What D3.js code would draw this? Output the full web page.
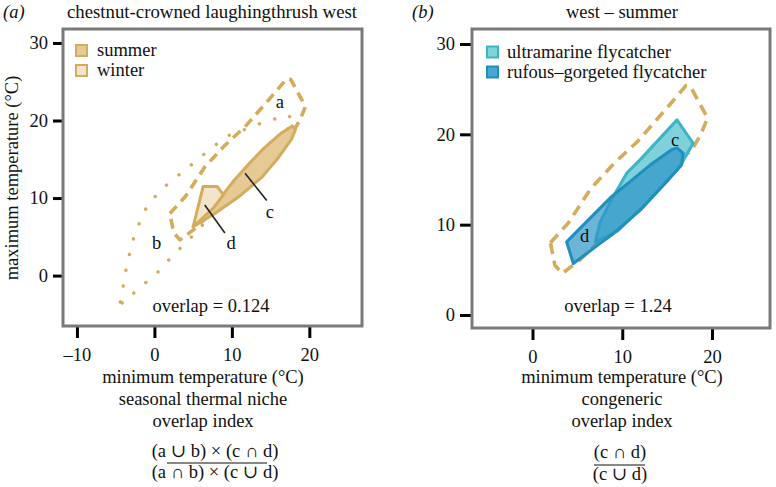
<!DOCTYPE html>
<html>
<head>
<meta charset="utf-8">
<script src="https://cdn.jsdelivr.net/npm/d3@7"></script>
<style>
  html, body { margin: 0; padding: 0; background: #fff; }
  svg { display: block; }
  text { font-family: "Liberation Serif", "Times New Roman", "DejaVu Serif", serif; fill: #111; }
</style>
</head>
<body>
<svg id="chart" width="776" height="487"></svg>
<script>
// ---------------- data ----------------
const ticksAx = [-10, 0, 10, 20];
const ticksAy = [0, 10, 20, 30];
const ticksBx = [0, 10, 20];
const ticksBy = [0, 10, 20, 30];

// panel (a): seasonal niches of chestnut-crowned laughingthrush west
const summerOutline = [[2.0,8.0],[4.0,10.2],[6.5,14.0],[9.1,16.8],[11.7,19.2],[14.7,22.6],[17.1,25.4],[17.6,25.3],[19.5,21.8],[18.8,20.1],[17.9,18.5],[5.3,6.1],[3.3,4.6],[2.5,5.5]];
const winterOutline = [[-4.4,-3.4],[-4.0,-1.2],[-3.6,1.1],[-3.1,3.3],[-2.5,5.5],[-0.8,9.3],[0.5,10.6],[2.2,12.3],[4.0,13.6],[5.7,15.1],[7.4,16.4],[9.1,17.9],[11.1,18.6],[13.0,19.4],[15.2,20.1],[17.3,20.7],[18.0,19.8],[5.3,5.5],[2.2,2.4],[0.5,0.5],[-1.0,-0.8],[-2.5,-2.1],[-4.0,-3.6]];
const summerCore = [[5.0,6.3],[8.9,10.5],[10.3,12.3],[12.0,14.2],[14.0,16.3],[16.4,18.4],[17.8,19.3],[18.2,18.8],[17.7,17.6],[16.0,15.2],[13.9,12.7],[10.8,10.1],[7.8,8.0]];
const winterCore = [[5.0,6.3],[6.3,11.5],[8.1,11.5],[8.9,10.4],[7.6,8.7]];
const labelsA = [{t:"a",x:16.2,y:22.4},{t:"b",x:0.3,y:4.2},{t:"c",x:14.9,y:8.2},{t:"d",x:9.9,y:4.2}];
const pointersA = [[[11.7,13.2],[14.5,9.7]],[[6.5,9.1],[9.1,5.5]]];

// panel (b): congeneric flycatchers, west summer
const ultramarine = [[7.0,8.1],[7.5,10.2],[8.6,12.4],[9.4,13.8],[10.5,15.7],[12.0,17.2],[16.1,21.6],[17.9,19.0],[16.4,16.4],[12.5,12.2],[9.5,9.3]];
const rufous = [[3.8,8.1],[8.8,13.1],[10.9,14.8],[13.1,16.6],[15.5,18.3],[16.1,18.5],[16.8,17.9],[16.6,16.6],[15.0,14.8],[12.0,11.6],[9.0,9.0],[7.5,7.9],[4.55,5.7]];
const labelsB = [{t:"c",x:15.9,y:19.4},{t:"d",x:5.8,y:8.7}];

// ---------------- styles ----------------
const gold = "#D5AB5C";
const summerFill = "#E6CA95";
const winterFill = "#F3E5CB";
const ultraStroke = "#3CB6C6", ultraFill = "#80D1DA";
const rufStroke = "#1F8FC0", rufFill = "#2E94C8";
const FS = 18.5;

const svg = d3.select("#chart");
const line = d3.line();

function frameAndAxes(g, x, y, tx, ty, tickY, tickX) {
  const [x0, x1] = x.range();
  const [y0, y1] = y.range(); // y0 bottom
  const ax = g.append("g").attr("transform", `translate(0,${y0})`)
    .call(d3.axisBottom(x).tickValues(tx).tickSize(tickX).tickPadding(10).tickFormat(d => d < 0 ? "\u2013" + Math.abs(d) : d));
  const ay = g.append("g").attr("transform", `translate(${x0},0)`)
    .call(d3.axisLeft(y).tickValues(ty).tickSize(tickY).tickPadding(5));
  [ax, ay].forEach(a => {
    a.select(".domain").remove();
    a.selectAll("line").attr("stroke", "#000").attr("stroke-width", 3);
    a.selectAll("text").attr("font-size", FS).attr("font-family", "Liberation Serif, serif").attr("fill", "#111");
  });
  g.append("rect").attr("x", x0).attr("y", y1).attr("width", x1 - x0).attr("height", y0 - y1)
    .attr("fill", "none").attr("stroke", "#7a7a7a").attr("stroke-width", 3);
}

function poly(g, data, x, y, opts) {
  g.append("path")
    .attr("d", line.x(d => x(d[0])).y(d => y(d[1]))(data) + "Z")
    .attr("fill", opts.fill || "none")
    .attr("fill-opacity", opts.fo == null ? 1 : opts.fo)
    .attr("stroke", opts.stroke)
    .attr("stroke-width", opts.sw || 3)
    .attr("stroke-dasharray", opts.dash || null)
    .attr("stroke-linecap", opts.cap || "butt")
    .attr("stroke-linejoin", "round");
}

// ---------------- panel (a) ----------------
const xa = d3.scaleLinear().domain([-11.8, 26.8]).range([63, 362]);
const ya = d3.scaleLinear().domain([-6.5, 31.8]).range([326, 29]);
const ga = svg.append("g");

poly(ga, winterOutline, xa, ya, {stroke: gold, sw: 3.4, dash: "0.1 16", cap: "round"});
poly(ga, summerOutline, xa, ya, {stroke: gold, sw: 3.6, dash: "10 6.5"});
poly(ga, summerCore, xa, ya, {stroke: gold, sw: 3, fill: summerFill});
poly(ga, winterCore, xa, ya, {stroke: gold, sw: 3, fill: winterFill});

pointersA.forEach(p => {
  ga.append("line").attr("x1", xa(p[0][0])).attr("y1", ya(p[0][1]))
    .attr("x2", xa(p[1][0])).attr("y2", ya(p[1][1]))
    .attr("stroke", "#222").attr("stroke-width", 1.6);
});
labelsA.forEach(l => {
  ga.append("text").attr("x", xa(l.x)).attr("y", ya(l.y)).attr("dy", "0.32em")
    .attr("text-anchor", "middle").attr("font-size", FS).text(l.t);
});

frameAndAxes(ga, xa, ya, ticksAx, ticksAy, 10, 12);

// legend (a)
[["summer", summerFill, 50.5, 55.5], ["winter", winterFill, 70.5, 76]].forEach(([t, f, cy, by]) => {
  ga.append("rect").attr("x", 76).attr("y", cy - 5.5).attr("width", 11).attr("height", 11)
    .attr("fill", f).attr("stroke", gold).attr("stroke-width", 2);
  ga.append("text").attr("x", 97).attr("y", by).attr("font-size", FS).text(t);
});

ga.append("text").attr("x", 211).attr("y", 312).attr("text-anchor", "middle").attr("font-size", FS).text("overlap = 0.124");

// titles (a)
svg.append("text").attr("x", 3).attr("y", 18).attr("font-size", FS).attr("font-style", "italic").text("(a)");
svg.append("text").attr("x", 212).attr("y", 18).attr("text-anchor", "middle").attr("font-size", FS + 0.3).text("chestnut-crowned laughingthrush west");
svg.append("text").attr("transform", "translate(18,178) rotate(-90)").attr("text-anchor", "middle").attr("font-size", FS).text("maximum temperature (\u00B0C)");

[["minimum temperature (\u00B0C)", 383], ["seasonal thermal niche", 405], ["overlap index", 427]].forEach(([t, yy]) => {
  svg.append("text").attr("x", 203).attr("y", yy).attr("text-anchor", "middle").attr("font-size", FS).text(t);
});
svg.append("text").attr("x", 215).attr("y", 457).attr("text-anchor", "middle").attr("font-size", FS).text("(a \u222A b) \u00D7 (c \u2229 d)");
svg.append("line").attr("x1", 167).attr("x2", 267).attr("y1", 463).attr("y2", 463).attr("stroke", "#111").attr("stroke-width", 1.2);
svg.append("text").attr("x", 215).attr("y", 478).attr("text-anchor", "middle").attr("font-size", FS).text("(a \u2229 b) \u00D7 (c \u222A d)");

// ---------------- panel (b) ----------------
const xb = d3.scaleLinear().domain([-6.74, 26.46]).range([472, 770]);
const yb = d3.scaleLinear().domain([-1.44, 31.66]).range([328, 29]);
const gb = svg.append("g");

poly(gb, summerOutline, xb, yb, {stroke: gold, sw: 3.6, dash: "11 7"});
poly(gb, ultramarine, xb, yb, {stroke: ultraStroke, sw: 3, fill: ultraFill});
poly(gb, rufous, xb, yb, {stroke: rufStroke, sw: 3, fill: rufFill, fo: 0.7});

labelsB.forEach(l => {
  gb.append("text").attr("x", xb(l.x)).attr("y", yb(l.y)).attr("dy", "0.32em")
    .attr("text-anchor", "middle").attr("font-size", FS).text(l.t);
});

frameAndAxes(gb, xb, yb, ticksBx, ticksBy, 12, 12);

[["ultramarine flycatcher", ultraFill, ultraStroke, 52, 57.5], ["rufous\u2013gorgeted flycatcher", "#4AA6D2", rufStroke, 72, 78]].forEach(([t, f, s, cy, by]) => {
  gb.append("rect").attr("x", 487).attr("y", cy - 5.5).attr("width", 11).attr("height", 11)
    .attr("fill", f).attr("stroke", s).attr("stroke-width", 2);
  gb.append("text").attr("x", 507).attr("y", by).attr("font-size", FS).text(t);
});

gb.append("text").attr("x", 618).attr("y", 312).attr("text-anchor", "middle").attr("font-size", FS).text("overlap = 1.24");

svg.append("text").attr("x", 412).attr("y", 18).attr("font-size", FS).attr("font-style", "italic").text("(b)");
svg.append("text").attr("x", 622).attr("y", 18).attr("text-anchor", "middle").attr("font-size", FS).text("west \u2013 summer");

[["minimum temperature (\u00B0C)", 383], ["congeneric", 405], ["overlap index", 427]].forEach(([t, yy]) => {
  svg.append("text").attr("x", 622).attr("y", yy).attr("text-anchor", "middle").attr("font-size", FS).text(t);
});
svg.append("text").attr("x", 620).attr("y", 458).attr("text-anchor", "middle").attr("font-size", FS).text("(c \u2229 d)");
svg.append("line").attr("x1", 594).attr("x2", 645).attr("y1", 465).attr("y2", 465).attr("stroke", "#111").attr("stroke-width", 1.2);
svg.append("text").attr("x", 620).attr("y", 480).attr("text-anchor", "middle").attr("font-size", FS).text("(c \u222A d)");
</script>
</body>
</html>
